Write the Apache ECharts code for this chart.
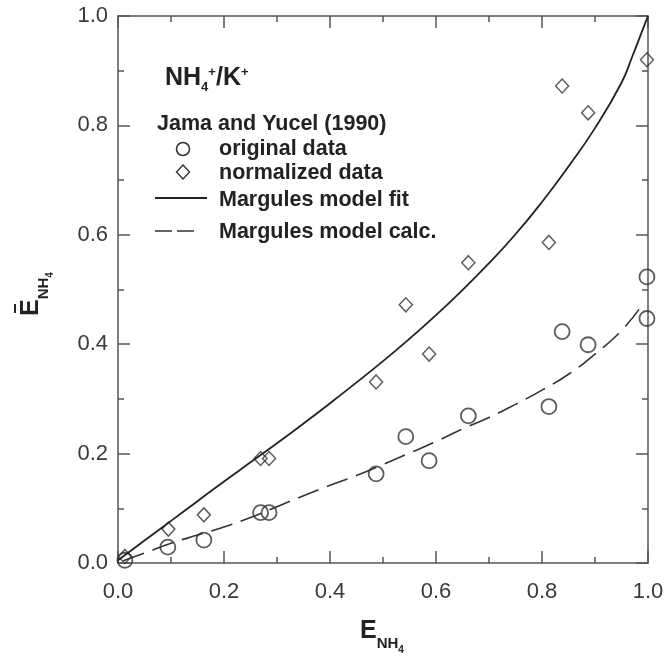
<!DOCTYPE html>
<html>
<head>
<meta charset="utf-8">
<script src="https://cdn.jsdelivr.net/npm/echarts@6/dist/echarts.min.js"></script>
<style>
  html, body { margin: 0; padding: 0; background: #fff; }
  #chart { width: 669px; height: 656px; }
</style>
</head>
<body>
<div id="chart"></div>
<script>
// NH4+/K+ exchange isotherm, Jama and Yucel (1990)
const tickValues = [0.0, 0.2, 0.4, 0.6, 0.8, 1.0];

// original data (circles)
const origX = [0.013, 0.094, 0.162, 0.269, 0.285, 0.487, 0.543, 0.587, 0.661, 0.813, 0.838, 0.887, 0.998, 0.998];
const origY = [0.005, 0.029, 0.042, 0.092, 0.092, 0.163, 0.231, 0.187, 0.269, 0.286, 0.423, 0.399, 0.523, 0.447];

// normalized data (diamonds)
const normX = [0.013, 0.095, 0.162, 0.269, 0.285, 0.487, 0.543, 0.587, 0.661, 0.813, 0.838, 0.887, 0.998];
const normY = [0.012, 0.062, 0.088, 0.191, 0.191, 0.331, 0.472, 0.382, 0.549, 0.586, 0.872, 0.823, 0.920];

// Margules model fit (solid)
const fitX = [0, 0.05, 0.1, 0.15, 0.2, 0.25, 0.3, 0.35, 0.4, 0.45, 0.5, 0.55, 0.6, 0.65, 0.7, 0.75, 0.8, 0.85, 0.9, 0.95, 0.97, 0.99, 1.0];
const fitY = [0.005, 0.041, 0.077, 0.113, 0.149, 0.184, 0.219, 0.255, 0.292, 0.33, 0.369, 0.41, 0.453, 0.499, 0.548, 0.601, 0.66, 0.725, 0.795, 0.878, 0.925, 0.975, 1.0];

// Margules model calculation (dashed)
const calcX = [0.01, 0.05, 0.1, 0.15, 0.2, 0.25, 0.3, 0.35, 0.4, 0.45, 0.5, 0.55, 0.6, 0.65, 0.7, 0.75, 0.8, 0.85, 0.9, 0.95, 0.99];
const calcY = [0.004, 0.018, 0.036, 0.051, 0.066, 0.083, 0.103, 0.123, 0.142, 0.16, 0.18, 0.201, 0.222, 0.245, 0.266, 0.29, 0.316, 0.345, 0.382, 0.425, 0.473];

const zip = (xs, ys) => xs.map((x, i) => [x, ys[i]]);

const FONT = '"Liberation Sans", Arial, Helvetica, sans-serif';
const AXIS_COLOR = '#555';
const MARK_COLOR = '#333';
const INK = '#222';

function axis(dim, position, showLabel) {
  return {
    type: 'value',
    position: position,
    min: 0, max: 1, interval: 0.2,
    axisLine: { show: true, onZero: false, lineStyle: { color: AXIS_COLOR, width: 1.5 } },
    axisTick: { show: true, inside: true, length: 12, lineStyle: { color: AXIS_COLOR, width: 1.5 } },
    minorTick: { show: true, splitNumber: 2, length: 6, lineStyle: { color: AXIS_COLOR, width: 1.5 } },
    splitLine: { show: false },
    axisLabel: {
      show: showLabel,
      color: '#3a3a3a',
      fontFamily: FONT,
      fontSize: 22,
      margin: dim === 'x' ? 18 : 10,
      formatter: v => tickValues.indexOf(+v.toFixed(1)) >= 0 ? v.toFixed(1) : ''
    }
  };
}

// rich-text pieces for E with NH4 subscript (all top-aligned, offset by top padding)
const titleRich = {
  m: { fontFamily: FONT, fontWeight: 'bold', fontSize: 25, verticalAlign: 'top', fill: INK },
  s: { fontFamily: FONT, fontWeight: 'bold', fontSize: 15, verticalAlign: 'top', padding: [17, 0, 0, 0], fill: INK },
  t: { fontFamily: FONT, fontWeight: 'bold', fontSize: 10, verticalAlign: 'top', padding: [26, 0, 0, 0], fill: INK }
};
const titleText = '{m|E}{s|NH}{t|4}';

function keyText(text, y, size) {
  return {
    type: 'text', x: text === 'Jama and Yucel (1990)' ? 157 : 219, y: y,
    style: { text: text, fontFamily: FONT, fontWeight: 'bold', fontSize: size, fill: INK, verticalAlign: 'middle' }
  };
}

const chart = echarts.init(document.getElementById('chart'), null, { renderer: 'canvas' });
chart.setOption({
  animation: false,
  backgroundColor: '#fff',
  grid: { left: 118, right: 21, top: 16, bottom: 93 },
  xAxis: [axis('x', 'bottom', true), axis('x', 'top', false)],
  yAxis: [axis('y', 'left', true), axis('y', 'right', false)],
  series: [
    {
      name: 'Margules model fit', type: 'line', data: zip(fitX, fitY),
      smooth: true, showSymbol: false, clip: false,
      lineStyle: { color: INK, width: 1.8 }
    },
    {
      name: 'Margules model calc.', type: 'line', data: zip(calcX, calcY),
      smooth: true, showSymbol: false, clip: false,
      lineStyle: { color: '#333', width: 1.6, type: [22, 9] }
    },
    {
      name: 'original data', type: 'scatter', data: zip(origX, origY),
      symbol: 'circle', symbolSize: 15, clip: false,
      itemStyle: { color: 'rgba(0,0,0,0)', borderColor: MARK_COLOR, borderWidth: 1.8 }
    },
    {
      name: 'normalized data', type: 'scatter', data: zip(normX, normY),
      symbol: 'diamond', symbolSize: [13, 14], clip: false,
      itemStyle: { color: 'rgba(0,0,0,0)', borderColor: MARK_COLOR, borderWidth: 1.5 }
    }
  ],
  graphic: [
    // key block
    {
      type: 'text', x: 165, y: 66,
      style: {
        text: '{m|NH}{s|4}{p|+}{m|/K}{p|+}',
        rich: {
          m: { fontFamily: FONT, fontWeight: 'bold', fontSize: 25, verticalAlign: 'top', fill: INK },
          s: { fontFamily: FONT, fontWeight: 'bold', fontSize: 13, verticalAlign: 'top', padding: [15, 0, 0, 0], fill: INK },
          p: { fontFamily: FONT, fontWeight: 'bold', fontSize: 13, verticalAlign: 'top', padding: [0, 0, 0, 0], fill: INK }
        }
      }
    },
    keyText('Jama and Yucel (1990)', 124, 21.5),
    { type: 'circle', shape: { cx: 183, cy: 149, r: 6.5 }, style: { fill: 'none', stroke: MARK_COLOR, lineWidth: 1.6 } },
    keyText('original data', 149, 21.5),
    { type: 'polygon', shape: { points: [[183, 165], [189.5, 172], [183, 179], [176.5, 172]] }, style: { fill: 'none', stroke: MARK_COLOR, lineWidth: 1.4 } },
    keyText('normalized data', 173, 21.5),
    { type: 'line', shape: { x1: 155, y1: 198, x2: 207, y2: 198 }, style: { stroke: INK, lineWidth: 1.8 } },
    keyText('Margules model fit', 200, 21.5),
    { type: 'line', shape: { x1: 155, y1: 231, x2: 194, y2: 231 }, style: { stroke: '#333', lineWidth: 1.6, lineDash: [17, 5] } },
    keyText('Margules model calc.', 232, 21.5),

    // x-axis title
    { type: 'text', x: 360, y: 619, style: { text: titleText, rich: titleRich } },

    // y-axis title, rotated, with overbar
    {
      type: 'group', x: 19, y: 316, rotation: Math.PI / 2,
      children: [
        { type: 'text', x: 0, y: 0, style: { text: titleText, rich: titleRich } },
        { type: 'line', shape: { x1: 3, y1: -4, x2: 12, y2: -4 }, style: { stroke: INK, lineWidth: 2 } }
      ]
    }
  ]
});
</script>
</body>
</html>
